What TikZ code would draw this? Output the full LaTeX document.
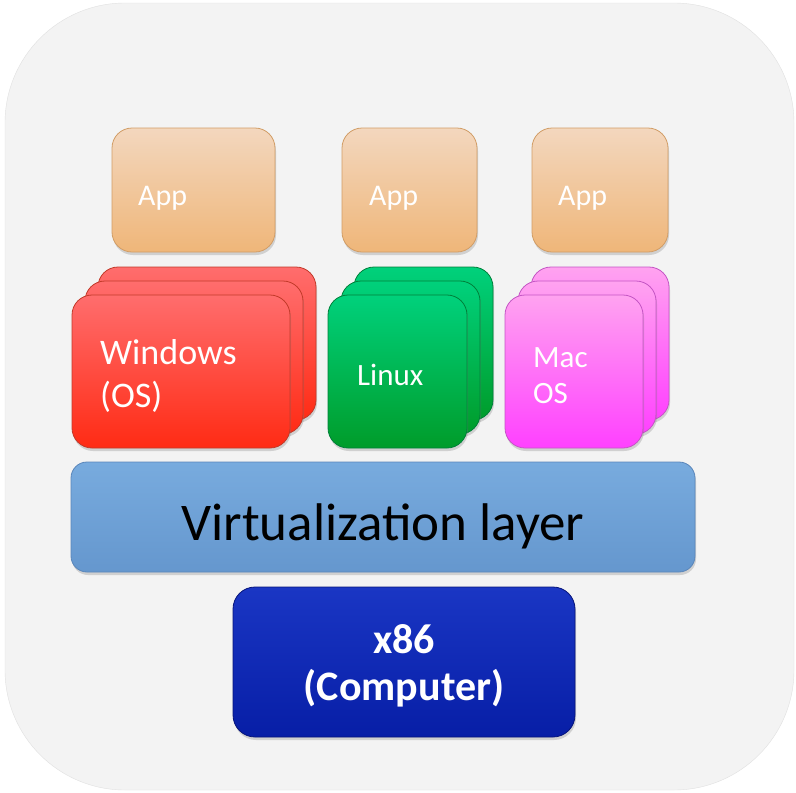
\documentclass[tikz,border=0pt]{standalone}
\usepackage{fontspec}
\setmainfont{Carlito}
\usepackage{tikz}
\usetikzlibrary{shadows}

\definecolor{bgGray}{HTML}{F3F3F3}
\definecolor{appTop}{HTML}{F3D7BE}
\definecolor{appBot}{HTML}{EFB679}
\definecolor{appLine}{HTML}{D19D66}
\definecolor{winTop}{HTML}{FF6D6D}
\definecolor{winBot}{HTML}{FF2B14}
\definecolor{winLine}{HTML}{C23A2A}
\definecolor{luxTop}{HTML}{00D17C}
\definecolor{luxBot}{HTML}{009C2A}
\definecolor{luxLine}{HTML}{00803A}
\definecolor{macTop}{HTML}{FFA3F0}
\definecolor{macBot}{HTML}{FF40FF}
\definecolor{macLine}{HTML}{C455C4}
\definecolor{virtTop}{HTML}{78ABDE}
\definecolor{virtBot}{HTML}{6597CE}
\definecolor{virtLine}{HTML}{5A86BA}
\definecolor{hwTop}{HTML}{1A36C4}
\definecolor{hwBot}{HTML}{071EA6}
\definecolor{hwLine}{HTML}{06147A}

\tikzset{
  box/.style={rounded corners=20pt, line width=0.8pt, inner sep=0pt,
    drop shadow={opacity=0.3, shadow xshift=1pt, shadow yshift=-3pt}},
  appbox/.style={box, top color=appTop, bottom color=appBot, draw=appLine,
    minimum height=124pt},
  wincard/.style={box, top color=winTop, bottom color=winBot, draw=winLine,
    minimum width=218pt, minimum height=153pt},
  luxcard/.style={box, top color=luxTop, bottom color=luxBot, draw=luxLine,
    minimum width=139pt, minimum height=153pt},
  maccard/.style={box, top color=macTop, bottom color=macBot, draw=macLine,
    minimum width=138pt, minimum height=153pt},
  whitetext/.style={text=white, inner sep=0pt, anchor=base west,
    font=\fontsize{30}{36}\selectfont}
}

\begin{document}
\begin{tikzpicture}[x=1pt, y=-1pt]
    \useasboundingbox (0,0) rectangle (796,793);

    % Backdrop
    \fill[white] (0,0) rectangle (796,793);
    \draw[black!12, fill=bgGray, rounded corners=120pt] (5,3) rectangle (794,790);

    % Applications
    \node[appbox, minimum width=163pt] (app1) at (193.5,190) {};
    \node[appbox, minimum width=135pt] (app2) at (409.5,190) {};
    \node[appbox, minimum width=136pt] (app3) at (600,190) {};
    \node[whitetext] (app1txt) at (138,205) {App};
    \node[whitetext] (app2txt) at (369,205) {App};
    \node[whitetext] (app3txt) at (558,205) {App};

    % Operating system stacks (back cards first)
    \foreach \d in {2,1} {
        \node[wincard] (win\d) at (181+13*\d, 371.5-14*\d) {};
        \node[luxcard] (lux\d) at (397.5+13*\d, 371.5-14*\d) {};
        \node[maccard] (mac\d) at (574+13*\d, 371.5-14*\d) {};
    }
    \node[wincard] (win) at (181,371.5) {};
    \node[luxcard] (lux) at (397.5,371.5) {};
    \node[maccard] (mac) at (574,371.5) {};

    \node[whitetext, font=\fontsize{36}{43}\selectfont] (wintxt) at (100,364) {Windows};
    \node[whitetext, font=\fontsize{36}{43}\selectfont] (wintxt2) at (100,407) {(OS)};
    \node[whitetext, font=\fontsize{31}{37}\selectfont] (luxtxt) at (357,385) {Linux};
    \node[whitetext, font=\fontsize{31}{37}\selectfont] (mactxt) at (533,367) {Mac};
    \node[whitetext, font=\fontsize{31}{37}\selectfont] (mactxt2) at (533,403) {OS};

    % Virtualization layer
    \node[box, top color=virtTop, bottom color=virtBot, draw=virtLine, rounded corners=16pt,
          minimum width=624pt, minimum height=110pt] (virt) at (383,517) {};
    \node[inner sep=0pt, anchor=base, font=\fontsize{53}{60}\selectfont]
          (virttxt) at (383,540) {Virtualization layer};

    % Hardware
    \node[box, top color=hwTop, bottom color=hwBot, draw=hwLine, rounded corners=22pt,
          minimum width=342pt, minimum height=150pt] (hw) at (404,662) {};
    \node[whitetext, anchor=base, font=\bfseries\fontsize{42}{47}\selectfont]
          (hwtxt) at (404,653) {x86};
    \node[whitetext, anchor=base, font=\bfseries\fontsize{42}{47}\selectfont]
          (hwtxt2) at (404,700) {(Computer)};
\end{tikzpicture}
\end{document}
